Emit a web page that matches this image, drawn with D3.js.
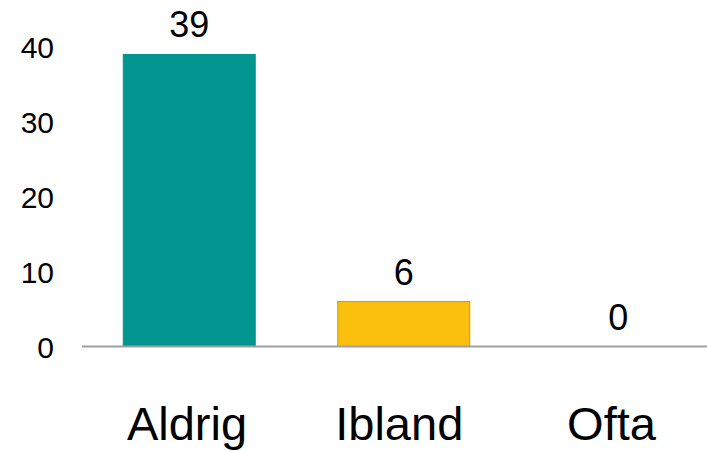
<!DOCTYPE html>
<html>
<head>
<meta charset="utf-8">
<script src="https://cdn.jsdelivr.net/npm/d3@7"></script>
<style>
  body { margin: 0; background: #fff; }
  text { font-family: "Liberation Sans", Arial, sans-serif; fill: #000; }
</style>
</head>
<body>
<div id="content"></div>
<script>
var Width = 707;
var Height = 451;

// data
var categories = ["Aldrig", "Ibland", "Ofta"];
var values = [39, 6, 0];
var barColors = ["#00968f", "#fbc00d"];
var barStrokes = ["#00968f", "#c89b0a"];
var yTicks = [0, 10, 20, 30, 40];

var svg = d3
  .select("#content")
  .append("svg")
  .attr("width", Width)
  .attr("height", Height);

// scales
var xScale = d3
  .scaleBand()
  .domain(categories)
  .range([82, 82 + 214.5 * 3])
  .paddingInner(0.38)
  .paddingOuter(0.19);

// category labels sit a little tighter than the bars
var labelScale = d3.scalePoint().domain(categories).range([187, 611.5]);

var yScale = d3.scaleLinear().domain([0, 40]).range([346.5, 47]);

// y axis labels only (no line, no ticks)
var yAxis = d3.axisLeft(yScale).tickValues(yTicks).tickSize(0).tickPadding(0);
var gy = svg.append("g").attr("transform", "translate(54,0)").call(yAxis);
gy.select(".domain").remove();
gy.selectAll("text")
  .attr("font-size", "30px")
  .attr("font-family", "Liberation Sans, Arial, sans-serif")
  .attr("fill", "#000")
  .attr("dy", "0.36em");

// bars
svg
  .selectAll("rect.bar")
  .data(values)
  .enter()
  .append("rect")
  .attr("class", "bar")
  .attr("x", function (d, i) {
    return xScale(categories[i]) + 0.5;
  })
  .attr("y", function (d) {
    return yScale(d);
  })
  .attr("width", xScale.bandwidth() - 1)
  .attr("height", function (d) {
    return yScale(0) - yScale(d);
  })
  .attr("fill", function (d, i) {
    return barColors[i % barColors.length];
  })
  .attr("stroke", function (d, i) {
    return barStrokes[i % barStrokes.length];
  })
  .attr("stroke-width", function (d) {
    return d > 0 ? 1 : 0;
  });

// x axis line
svg
  .append("line")
  .attr("x1", 82)
  .attr("x2", Width)
  .attr("y1", yScale(0))
  .attr("y2", yScale(0))
  .attr("stroke", "#a0a0a0")
  .attr("stroke-width", 2);

// data labels
svg
  .selectAll("text.value")
  .data(values)
  .enter()
  .append("text")
  .attr("class", "value")
  .attr("x", function (d, i) {
    return xScale(categories[i]) + xScale.bandwidth() / 2;
  })
  .attr("y", function (d) {
    return yScale(d) - 17;
  })
  .attr("text-anchor", "middle")
  .attr("font-size", "36px")
  .text(function (d) {
    return d;
  });

// category labels
svg
  .selectAll("text.cat")
  .data(categories)
  .enter()
  .append("text")
  .attr("class", "cat")
  .attr("x", function (d) {
    return labelScale(d);
  })
  .attr("y", 440)
  .attr("text-anchor", "middle")
  .attr("font-size", "47px")
  .text(function (d) {
    return d;
  });
</script>
</body>
</html>
